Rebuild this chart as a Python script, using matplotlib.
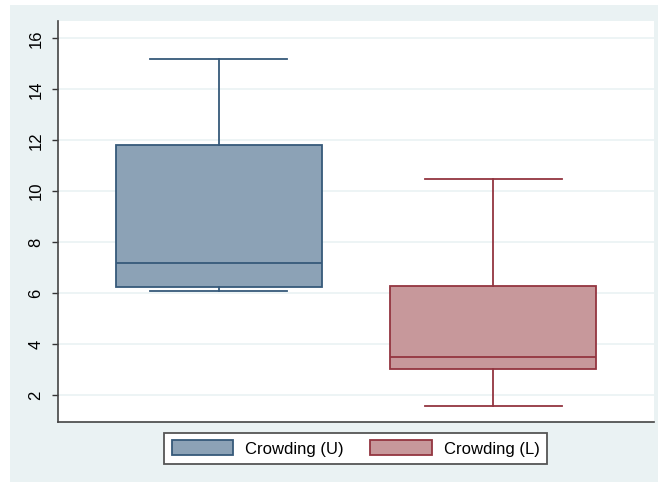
import matplotlib.pyplot as plt
from matplotlib.patches import Rectangle, Patch

# box statistics
labels = ["Crowding (U)", "Crowding (L)"]
whislo = [6.09, 1.58]
q1 = [6.23, 3.01]
med = [7.19, 3.48]
q3 = [11.81, 6.29]
whishi = [15.17, 10.48]

fills = ["#8CA2B6", "#C7989B"]
edges = ["#36597A", "#933540"]
yticks = [2, 4, 6, 8, 10, 12, 14, 16]

plt.rcParams['font.family'] = ['Liberation Sans', 'DejaVu Sans']

fig = plt.figure(figsize=(6.58, 4.82), dpi=100)
fig.patch.set_facecolor("white")
# stata-like outer panel, kept behind the axes
fig.add_artist(Rectangle((10 / 658, 0), 1 - 10 / 658, 1 - 5 / 482,
                         transform=fig.transFigure, facecolor="#EAF2F3",
                         edgecolor="none", zorder=-10))

ax = fig.add_axes([58 / 658, 1 - 422 / 482, 596 / 658, 401 / 482])
ax.set_facecolor("white")

stats = []
for i in range(len(labels)):
    stats.append({"label": labels[i], "whislo": whislo[i], "q1": q1[i],
                  "med": med[i], "q3": q3[i], "whishi": whishi[i], "fliers": []})

positions = list(range(1, len(labels) + 1))
for i, s in enumerate(stats):
    ax.bxp([s], positions=[positions[i]], widths=0.75, capwidths=0.5,
           patch_artist=True, showfliers=False, manage_ticks=False,
           boxprops=dict(facecolor=fills[i], edgecolor=edges[i], linewidth=1.3),
           medianprops=dict(color=edges[i], linewidth=1.3),
           whiskerprops=dict(color=edges[i], linewidth=1.3),
           capprops=dict(color=edges[i], linewidth=1.3))

ax.set_xlim(0.415, 2.585)
ax.set_ylim(0.94, 16.68)
ax.set_yticks(yticks)
ax.set_yticklabels([str(t) for t in yticks], rotation=90, va="center", fontsize=12)
ax.set_xticks([])
ax.tick_params(axis="y", length=4.5, width=1, color="#333333", pad=6)
ax.yaxis.grid(True, color="#EAF2F3", linewidth=1.2)
ax.set_axisbelow(True)
for side in ["top", "right"]:
    ax.spines[side].set_visible(False)
for side in ["left", "bottom"]:
    ax.spines[side].set_color("#444444")
    ax.spines[side].set_linewidth(1.2)

handles = [Patch(facecolor=fills[i], edgecolor=edges[i], linewidth=1.3, label=labels[i])
           for i in range(len(labels))]
leg = fig.legend(handles=handles, loc="center", bbox_to_anchor=(355.5 / 658, 1 - 448.5 / 482),
                 ncol=2, fontsize=12, frameon=True, fancybox=False, framealpha=1,
                 facecolor="white", handlelength=3.7, handleheight=1.0, handletextpad=0.7,
                 columnspacing=1.6, borderpad=0.45)
leg.get_frame().set_edgecolor("#555555")
leg.get_frame().set_linewidth(1.3)

fig.savefig("out.png", dpi=100)
